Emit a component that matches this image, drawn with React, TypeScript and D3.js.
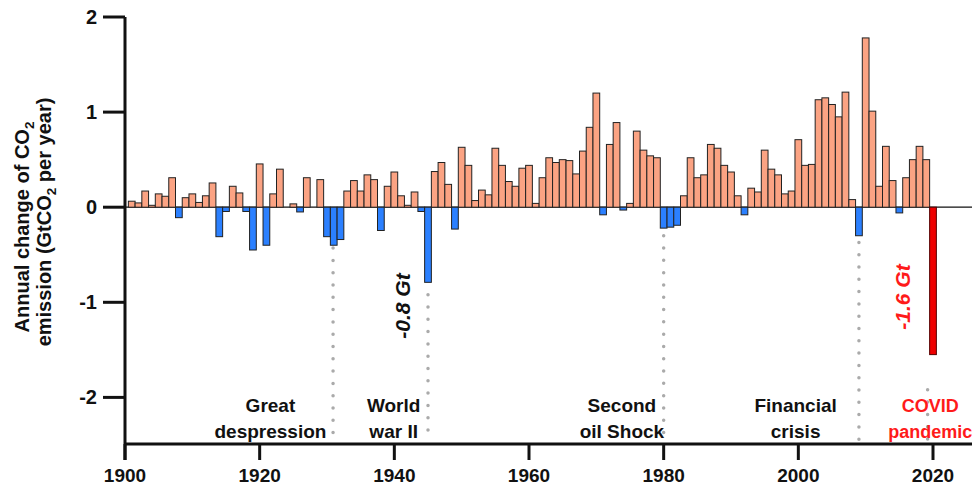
import React from "react";
import * as d3 from "d3";

const years: number[] = d3.range(1901, 2021);
const values: number[] = [
  0.063, 0.045, 0.17, 0.02, 0.14, 0.115, 0.31, -0.11, 0.1, 0.14,
  0.05, 0.12, 0.255, -0.31, -0.045, 0.22, 0.15, -0.045, -0.45, 0.455,
  -0.4, 0.14, 0.4, 0.0, 0.035, -0.05, 0.31, 0.0, 0.29, -0.31,
  -0.4, -0.34, 0.17, 0.28, 0.17, 0.34, 0.29, -0.245, 0.22, 0.37,
  0.12, 0.02, 0.16, -0.045, -0.79, 0.375, 0.47, 0.24, -0.23, 0.63,
  0.44, 0.07, 0.18, 0.13, 0.62, 0.44, 0.27, 0.22, 0.41, 0.44,
  0.04, 0.31, 0.52, 0.47, 0.5, 0.49, 0.35, 0.59, 0.84, 1.2,
  -0.08, 0.66, 0.89, -0.03, 0.04, 0.8, 0.6, 0.54, 0.52, -0.22,
  -0.21, -0.19, 0.12, 0.52, 0.31, 0.34, 0.66, 0.62, 0.44, 0.37,
  0.12, -0.08, 0.2, 0.16, 0.6, 0.4, 0.34, 0.14, 0.17, 0.71,
  0.44, 0.45, 1.13, 1.15, 1.08, 0.95, 1.21, 0.08, -0.3, 1.78,
  1.01, 0.22, 0.64, 0.28, -0.06, 0.31, 0.5, 0.64, 0.5, -1.55,
];
const xTicks: number[] = [1900, 1920, 1940, 1960, 1980, 2000, 2020];
const yTicks: number[] = [2, 1, 0, -1, -2];

const eventYears: number[] = [1930.9, 1945, 1980, 2009, 2019.2];
const eventLineTop: number[] = [-0.43, -0.92, -0.3, -0.37, -1.92];
const eventLine1: string[] = ["Great", "World", "Second", "Financial", "COVID"];
const eventLine2: string[] = ["despression", "war II", "oil Shock", "crisis", "pandemic"];
const eventLabelX: number[] = [1921.6, 1939.9, 1973.8, 1999.6, 2019.6];
const eventColors: string[] = ["#111", "#111", "#111", "#111", "#ff1a1a"];
const eventFontSizes: number[] = [19, 19, 19, 19, 18];

const FONT = "'Liberation Sans', Arial, Helvetica, sans-serif";

export default function App() {
  const x = d3.scaleLinear().domain([1900, 2020]).range([125, 933]);
  const y = d3.scaleLinear().domain([-2.49, 2]).range([444, 17]);
  const bw = x(1901) - x(1900);
  const y0 = y(0);

  return (
    <svg
      width={972}
      height={494}
      style={{ position: "absolute", left: 0, top: 0, background: "#fff" }}
      fontFamily={FONT}
    >
      {/* zero line */}
      <line x1={x(1900)} x2={972} y1={y0} y2={y0} stroke="#111" strokeWidth={1.3} />

      {/* bars */}
      {years.map((yr, i) => {
        const v = values[i];
        const isLast = yr === 2020;
        const fill = isLast ? "#ee0000" : v >= 0 ? "#FBA383" : "#2B80FF";
        const top = v >= 0 ? y(v) : y0;
        const h = Math.abs(y(v) - y0);
        return (
          <rect
            key={yr}
            x={x(yr) - bw / 2}
            y={top}
            width={bw}
            height={h}
            fill={fill}
            stroke={isLast ? "#550000" : "#222"}
            strokeWidth={1}
          />
        );
      })}

      {/* event dotted lines */}
      {eventYears.map((ey, i) => (
        <line
          key={"ev" + i}
          x1={x(ey)}
          x2={x(ey)}
          y1={y(eventLineTop[i])}
          y2={440}
          stroke="#aaa"
          strokeWidth={3.5}
          strokeLinecap="round"
          strokeDasharray="0 12.3"
        />
      ))}

      {/* event labels */}
      {eventLine1.map((t, i) => (
        <text
          key={"el" + i}
          x={x(eventLabelX[i])}
          textAnchor="middle"
          fontSize={eventFontSizes[i]}
          fontWeight="bold"
          fill={eventColors[i]}
        >
          <tspan x={x(eventLabelX[i])} y={412}>{t}</tspan>
          <tspan x={x(eventLabelX[i])} y={438}>{eventLine2[i]}</tspan>
        </text>
      ))}

      {/* rotated value labels */}
      <text
        transform={`translate(${x(1945) - 26},${306}) rotate(-90)`}
        textAnchor="middle"
        dominantBaseline="central"
        fontSize={21}
        fontWeight="bold"
        fontStyle="italic"
        fill="#111"
      >
        -0.8 Gt
      </text>
      <text
        transform={`translate(${x(2020) - 31},${297}) rotate(-90)`}
        textAnchor="middle"
        dominantBaseline="central"
        fontSize={21}
        fontWeight="bold"
        fontStyle="italic"
        fill="#ff1a1a"
      >
        -1.6 Gt
      </text>

      {/* axes */}
      <line x1={125} x2={125} y1={y(2)} y2={460} stroke="#111" strokeWidth={3} />
      <line x1={124} x2={972} y1={444} y2={444} stroke="#111" strokeWidth={3} />
      {yTicks.map((t) => (
        <g key={"yt" + t}>
          <line x1={103} x2={125} y1={y(t)} y2={y(t)} stroke="#111" strokeWidth={3} />
          <text
            x={97}
            y={y(t)}
            textAnchor="end"
            dominantBaseline="central"
            fontSize={20}
            fontWeight="bold"
            fill="#111"
          >
            {t}
          </text>
        </g>
      ))}
      {xTicks.map((t) => (
        <g key={"xt" + t}>
          <line x1={x(t)} x2={x(t)} y1={444} y2={460} stroke="#111" strokeWidth={3} />
          <text x={x(t)} y={482} textAnchor="middle" fontSize={19} fontWeight="bold" fill="#111">
            {t}
          </text>
        </g>
      ))}

      {/* y axis title */}
      <text
        transform="translate(29,227) rotate(-90)"
        textAnchor="middle"
        fontSize={20}
        fontWeight="bold"
        fill="#111"
      >
        Annual change of CO
        <tspan fontSize={13.5} dy={5}>2</tspan>
      </text>
      <text
        transform="translate(51,222) rotate(-90)"
        textAnchor="middle"
        fontSize={20}
        fontWeight="bold"
        fill="#111"
      >
        emission (GtCO
        <tspan fontSize={13.5} dy={5}>2</tspan>
        <tspan dy={-5}> per year)</tspan>
      </text>
    </svg>
  );
}
